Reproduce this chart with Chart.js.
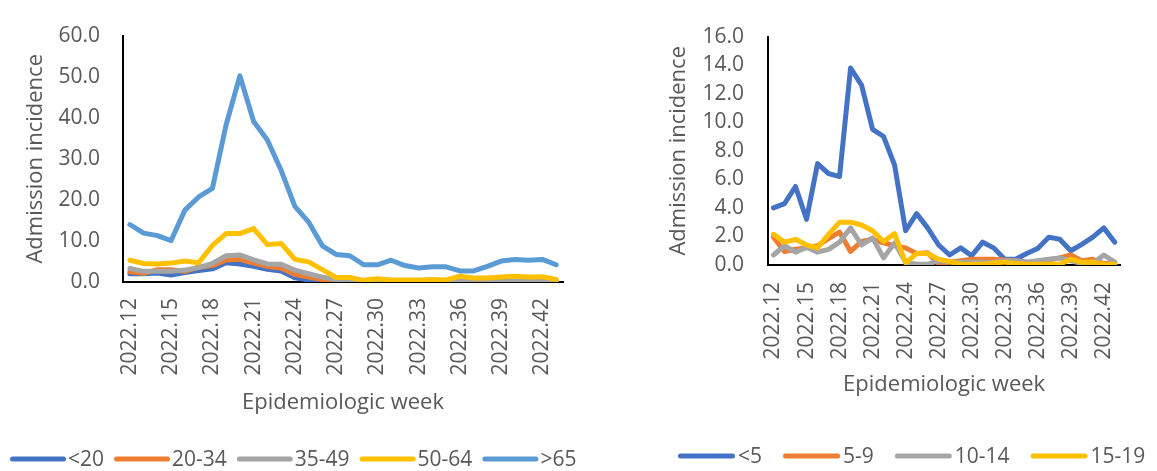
<!DOCTYPE html>
<html>
<head>
<meta charset="utf-8">
<script src="https://cdn.jsdelivr.net/npm/chart.js@4"></script>
<style>
  body { margin: 0; background: #fff; }
  canvas { position: absolute; top: 0; }
  #adultChart { left: 0; }
  #childChart { left: 600px; }
</style>
</head>
<body>
<canvas id="adultChart" width="600" height="471"></canvas>
<canvas id="childChart" width="557" height="471"></canvas>
<script>
// epidemiologic weeks 2022.12 - 2022.43
const weeks = ['2022.12', '2022.13', '2022.14', '2022.15', '2022.16', '2022.17', '2022.18', '2022.19',
  '2022.20', '2022.21', '2022.22', '2022.23', '2022.24', '2022.25', '2022.26', '2022.27',
  '2022.28', '2022.29', '2022.30', '2022.31', '2022.32', '2022.33', '2022.34', '2022.35',
  '2022.36', '2022.37', '2022.38', '2022.39', '2022.40', '2022.41', '2022.42', '2022.43'];

// left panel, adult age groups
const adultGroups = ['<20', '20-34', '35-49', '50-64', '>65'];
const under20 = [2.0, 2.0, 2.2, 1.7, 2.3, 2.8, 3.2, 4.7, 4.4, 3.8, 3.1, 2.7, 1.0, 0.5, 0.3, 0.1,
  0.1, 0.0, 0.1, 0.1, 0.0, 0.1, 0.1, 0.0, 0.1, 0.1, 0.0, 0.1, 0.1, 0.2, 0.1, 0.1];
const age20to34 = [2.5, 2.1, 3.0, 3.0, 2.6, 3.6, 4.0, 5.4, 5.5, 4.6, 3.8, 3.4, 1.8, 1.2, 0.6, 0.1,
  0.0, 0.1, 0.1, 0.0, 0.1, 0.1, 0.0, 0.1, 0.1, 0.1, 0.0, 0.1, 0.1, 0.1, 0.2, 0.1];
const age35to49 = [3.3, 2.6, 2.6, 2.6, 2.9, 3.5, 4.5, 6.4, 6.6, 5.4, 4.4, 4.3, 2.9, 2.0, 1.2, 0.5,
  0.3, 0.2, 0.2, 0.2, 0.2, 0.3, 0.2, 0.2, 0.6, 0.3, 0.3, 0.3, 0.3, 0.4, 0.4, 0.1];
const age50to64 = [5.3, 4.5, 4.4, 4.6, 5.1, 4.7, 8.9, 11.8, 11.8, 13.0, 9.1, 9.4, 5.5, 4.9, 3.0, 1.1,
  1.1, 0.4, 0.8, 0.5, 0.5, 0.5, 0.6, 0.5, 1.4, 1.0, 1.0, 1.2, 1.4, 1.2, 1.3, 0.6];
const over65 = [14.0, 11.9, 11.3, 10.1, 17.5, 20.7, 22.8, 38.3, 50.2, 39.1, 34.6, 27.2, 18.4, 14.6, 8.8, 6.7,
  6.4, 4.2, 4.2, 5.3, 4.0, 3.4, 3.7, 3.7, 2.7, 2.7, 3.8, 5.1, 5.5, 5.3, 5.5, 4.2];

// right panel, child age groups
const childGroups = ['<5', '5-9', '10-14', '15-19'];
const under5 = [4.0, 4.3, 5.5, 3.2, 7.1, 6.4, 6.2, 13.8, 12.6, 9.5, 9.0, 7.0, 2.4, 3.6, 2.6, 1.4,
  0.7, 1.2, 0.65, 1.6, 1.2, 0.4, 0.4, 0.8, 1.15, 1.95, 1.8, 1.0, 1.45, 1.95, 2.6, 1.6];
const age5to9 = [1.95, 0.95, 1.1, 1.2, 1.35, 1.85, 2.3, 0.95, 1.65, 1.8, 1.55, 1.35, 1.2, 0.8, 0.85, 0.1,
  0.2, 0.3, 0.4, 0.4, 0.4, 0.35, 0.3, 0.2, 0.2, 0.35, 0.5, 0.7, 0.3, 0.4, 0.1, 0.1];
const age10to14 = [0.7, 1.35, 0.9, 1.25, 0.9, 1.1, 1.6, 2.6, 1.4, 1.9, 0.5, 1.55, 0.2, 0.05, 0.05, 0.3,
  0.2, 0.2, 0.2, 0.2, 0.2, 0.3, 0.3, 0.2, 0.3, 0.4, 0.5, 0.3, 0.1, 0.1, 0.7, 0.2];
const age15to19 = [2.15, 1.6, 1.8, 1.4, 1.2, 2.15, 3.0, 3.0, 2.8, 2.4, 1.65, 2.2, 0.15, 0.8, 0.8, 0.4,
  0.25, 0.05, 0.05, 0.05, 0.15, 0.2, 0.1, 0.05, 0.05, 0.05, 0.05, 0.4, 0.2, 0.2, 0.05, 0.05];

const textColor = '#595959';
const fontFamily = '"Open Sans", sans-serif';

// excel style legend: long rounded line, label right after it
const lineLegend = {
  id: 'lineLegend',
  afterDraw(chart, args, opts) {
    const { ctx } = chart;
    ctx.save();
    ctx.font = `21px ${fontFamily}`;
    ctx.textAlign = 'left';
    ctx.textBaseline = 'middle';
    let x = opts.x;
    chart.data.datasets.forEach(ds => {
      ctx.strokeStyle = ds.borderColor;
      ctx.lineWidth = 5;
      ctx.lineCap = 'round';
      ctx.beginPath();
      ctx.moveTo(x + 2.5, opts.y);
      ctx.lineTo(x + opts.lineLen - 2.5, opts.y);
      ctx.stroke();
      x += opts.lineLen + opts.textGap;
      ctx.fillStyle = textColor;
      ctx.fillText(ds.label, x, opts.y + 1);
      x += ctx.measureText(ds.label).width + opts.itemGap;
    });
    ctx.restore();
  }
};

function makeChart(id, groups, series, colors, layout) {
  const datasets = series.map((values, i) => ({
    label: groups[i],
    data: values,
    borderColor: colors[i],
    backgroundColor: colors[i],
    borderWidth: 5,
    borderJoinStyle: 'round',
    borderCapStyle: 'round',
    pointRadius: 0,
    tension: 0,
    order: -i   // later series on top, like excel
  }));

  return new Chart(document.getElementById(id), {
    type: 'line',
    data: { labels: weeks, datasets },
    options: {
      responsive: false,
      animation: false,
      layout: { padding: { left: 0, top: layout.top, right: layout.right, bottom: 0 } },
      plugins: {
        legend: { display: false },
        tooltip: { enabled: false },
        lineLegend: layout.legend
      },
      scales: {
        x: {
          offset: true,
          grid: { display: false, drawTicks: false },
          border: { display: true, color: '#000', width: 2 },
          ticks: {
            autoSkip: false,
            minRotation: 90,
            maxRotation: 90,
            padding: layout.xTickPad,
            color: textColor,
            font: { family: fontFamily, size: 21 },
            callback: function (val, index) {
              return index % 3 === 0 ? this.getLabelForValue(val) : '';
            }
          },
          title: {
            display: true,
            text: 'Epidemiologic week',
            color: textColor,
            font: { family: fontFamily, size: 22, lineHeight: 1.2 },
            padding: { top: 0, bottom: layout.xTitlePad }
          },
          afterFit(scale) { scale.height = layout.xHeight; }
        },
        y: {
          min: 0,
          max: layout.yMax,
          grid: { display: false, drawTicks: false },
          border: { display: true, color: '#000', width: 2 },
          ticks: {
            stepSize: layout.yStep,
            padding: layout.yTickPad,
            color: textColor,
            font: { family: fontFamily, size: 21 },
            callback: v => v.toFixed(1)
          },
          title: {
            display: true,
            text: 'Admission incidence',
            color: textColor,
            font: { family: fontFamily, size: 22, lineHeight: 1.2 },
            padding: { top: layout.yTitlePad, bottom: 0 }
          },
          afterFit(scale) { scale.width = layout.yWidth; }
        }
      }
    },
    plugins: [lineLegend]
  });
}

makeChart('adultChart', adultGroups,
  [under20, age20to34, age35to49, age50to64, over65],
  ['#4472C4', '#ED7D31', '#A5A5A5', '#FFC000', '#5B9BD5'],
  {
    top: 21, right: 37, yWidth: 123, xHeight: 189,
    yMax: 60, yStep: 10, yTickPad: 23, xTickPad: 16,
    yTitlePad: 23, xTitlePad: 55,
    legend: { x: 10, y: 459, lineLen: 56, textGap: 2, itemGap: 10 }
  });

makeChart('childChart', childGroups,
  [under5, age5to9, age10to14, age15to19],
  ['#4472C4', '#ED7D31', '#A5A5A5', '#FFC000'],
  {
    top: 18, right: 1, yWidth: 168, xHeight: 206,
    yMax: 16, yStep: 2, yTickPad: 24, xTickPad: 17,
    yTitlePad: 66, xTitlePad: 73,
    legend: { x: 78, y: 456, lineLen: 57, textGap: 3, itemGap: 21 }
  });
</script>
</body>
</html>
